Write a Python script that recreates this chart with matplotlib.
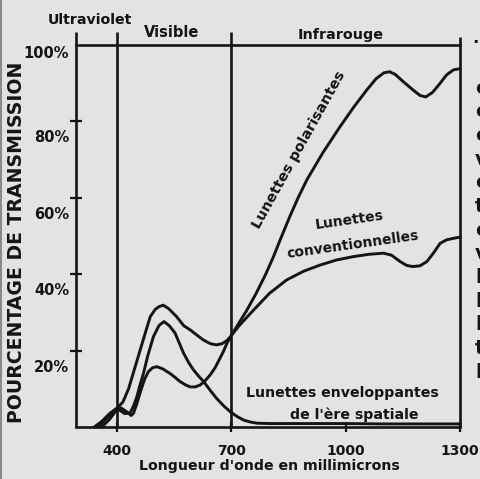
import matplotlib
matplotlib.use("Agg")
import matplotlib.pyplot as plt
from matplotlib.transforms import ScaledTranslation

plt.rcParams["font.family"] = ["DejaVu Sans"]
plt.rcParams["font.weight"] = "bold"

# Transmission curves (wavelength in millimicrons, transmission in %)
conv_wl = [340, 360, 380, 400, 415, 430, 445, 460, 475, 487, 500, 510, 521, 535, 545,
           556, 575, 592, 610, 626, 645, 661, 675, 688, 697, 720, 758, 800, 845, 890,
           933, 975, 1020, 1060, 1099, 1120, 1143, 1160, 1176, 1195, 1213, 1230, 1248,
           1265, 1283, 1300]
conv_pct = [0, 1.5, 3.5, 5, 6.5, 10, 15, 20, 25, 28.9, 30.8, 31.5, 31.9, 31, 30,
            28.9, 26.5, 25.4, 24, 22.8, 21.8, 21.5, 21.8, 22.6, 23.6, 26.5, 30.6, 35, 38.5, 40.8,
            42.4, 43.7, 44.6, 45.2, 45.5, 45, 43.3, 42.3, 42, 42.2, 43.3, 45.5, 48.1,
            49, 49.4, 49.7]

env_wl = [350, 370, 390, 405, 420, 434, 443, 452, 460, 469, 480, 495, 510, 523, 537,
          552, 563, 574, 587, 600, 614, 627, 645, 661, 680, 697, 714, 732, 750, 767,
          800, 900, 1000, 1100, 1200, 1300]
env_pct = [0, 2, 4, 4.5, 3.5, 3.7, 5.5, 8, 11, 14, 18.5, 23.6, 26.6, 27.6, 26.5,
           24.6, 22, 19.4, 17, 15, 13.3, 11.9, 9.5, 7.5, 5.5, 4, 2.8, 1.8, 1.3, 1.0,
           0.9, 0.9, 0.9, 0.8, 0.8, 0.8]

pol_wl = [360, 380, 395, 410, 425, 437, 443, 452, 462, 472, 482, 493, 504, 520, 539,
          552, 565, 580, 592, 605, 618, 630, 644, 657, 670, 680, 688, 700, 714, 740,
          765, 790, 810, 830, 855, 875, 898, 940, 985, 1020, 1055, 1080, 1100, 1115,
          1130, 1150, 1177, 1195, 1210, 1228, 1248, 1265, 1283, 1300]
pol_pct = [0, 2, 4, 5, 4, 3, 3.6, 6.2, 9.5, 12.5, 14.5, 15.5, 15.8, 15.2, 14,
           13, 11.9, 11, 10.5, 10.5, 11, 12, 13.6, 15.5, 18, 20, 21.9, 24, 26.3, 30.5,
           35, 40, 44.5, 49.5, 55.5, 60, 64.7, 71.8, 78.6, 83.6, 88.2, 91.2, 92.7, 93,
           92.3, 90.5, 88.2, 86.8, 86.4, 87.6, 90, 92.2, 93.5, 93.8]

x_ticks = [400, 700, 1000, 1300]
x_tick_labels = ["400", "700", "1000", "1300"]
y_ticks = [20, 40, 60, 80, 100]
y_tick_labels = ["20%", "40%", "60%", "80%", "100%"]
band_edges = [400, 700]
band_names = ["Ultraviolet", "Visible", "Infrarouge"]

BG = "#e3e3e1"
INK = "#141414"

fig = plt.figure(figsize=(4.8, 4.79), dpi=100)
fig.patch.set_facecolor(BG)
ax = fig.add_axes([76 / 480, 52 / 479, 384 / 480, 382 / 479])
ax.set_facecolor(BG)
ax.set_xlim(292, 1300)
ax.set_ylim(0, 100)

for s in ["top", "right", "left"]:
    ax.spines[s].set_visible(False)
ax.spines["bottom"].set_linewidth(1.9)
ax.spines["bottom"].set_color(INK)

# frame lines and spectral band separators
ax.plot([292, 292], [0, 103.5], color=INK, lw=1.9, clip_on=False, solid_capstyle="butt")
ax.plot([292, 1300], [100, 100], color=INK, lw=1.9, clip_on=False)
ax.plot([1300, 1300], [0, 102], color=INK, lw=1.9, clip_on=False, solid_capstyle="butt")
for xe in band_edges:
    ax.plot([xe, xe], [0, 103.5], color=INK, lw=1.9, clip_on=False, solid_capstyle="butt")

# curves
for wl, pct in [(conv_wl, conv_pct), (env_wl, env_pct), (pol_wl, pol_pct)]:
    ax.plot(wl, pct, color=INK, lw=2.1, solid_joinstyle="round", clip_on=False)

# ticks
ax.set_xticks(x_ticks)
ax.set_xticklabels(x_tick_labels, fontsize=10, fontweight="bold", color=INK)
ax.tick_params(axis="x", direction="inout", length=7, width=1.6, color=INK, pad=9)
ax.set_yticks(y_ticks)
ax.set_yticklabels(y_tick_labels, fontsize=10.5, fontweight="bold", color=INK)
ax.tick_params(axis="y", direction="inout", length=8, width=1.6, color=INK, pad=1)
ax.yaxis.get_major_ticks()[-1].tick1line.set_visible(False)
for lab, val in zip(ax.get_yticklabels(), y_ticks):
    dy = 7 if val == 100 else 15
    lab.set_transform(lab.get_transform() + ScaledTranslation(0, -dy / 100, fig.dpi_scale_trans))

# axis titles
ax.set_ylabel("POURCENTAGE DE TRANSMISSION", fontsize=13.6, fontweight="bold",
              color=INK, va="center")
ax.yaxis.set_label_coords(-0.154, 0.484)
ax.set_xlabel("Longueur d'onde en millimicrons", fontsize=10.2, fontweight="bold",
              color=INK, va="center")
ax.xaxis.set_label_coords(0.503, -0.102)

# band names above the frame
ax.text(329, 106.5, band_names[0], ha="center", va="center", fontsize=10.2,
        fontweight="bold", color=INK, clip_on=False)
ax.text(542, 103.4, band_names[1], ha="center", va="center", fontsize=10.5,
        fontweight="bold", color=INK, clip_on=False)
ax.text(988, 102.6, band_names[2], ha="center", va="center", fontsize=10.4,
        fontweight="bold", color=INK, clip_on=False)

# curve annotations
ax.text(878, 72.5, "Lunettes polarisantes", rotation=61, ha="center", va="center",
        fontsize=10.4, fontweight="bold", color=INK, rotation_mode="anchor")
ax.text(1009, 54.2, "Lunettes", rotation=8, ha="center", va="center",
        fontsize=10, fontweight="bold", color=INK, rotation_mode="anchor")
ax.text(1019, 47.6, "conventionnelles", rotation=8, ha="center", va="center",
        fontsize=10, fontweight="bold", color=INK, rotation_mode="anchor")
ax.text(992, 8.9, "Lunettes enveloppantes", ha="center", va="center",
        fontsize=10.2, fontweight="bold", color=INK)
ax.text(1022, 3.1, "de l'\u00e8re spatiale", ha="center", va="center",
        fontsize=10.2, fontweight="bold", color=INK)

# neighbouring column of the page, cut by the edge
edge_chars = ["c", "e", "c", "v", "e", "t", "e", "v", "l", "l", "l", "t", "l"]
for i, ch in enumerate(edge_chars):
    y = 88 + i * 23.7
    fig.text(475 / 480, 1 - y / 479, ch, ha="left", va="center", fontsize=14,
             fontweight="bold", color=INK)
fig.text(472 / 480, 1 - 38 / 479, ".", ha="left", va="center", fontsize=12,
         fontweight="bold", color=INK)
fig.add_artist(plt.Line2D([0.002, 0.002], [0, 1], color="#8a8a88", lw=1.5,
                          transform=fig.transFigure))

fig.savefig("out.png", dpi=100, facecolor=BG)
